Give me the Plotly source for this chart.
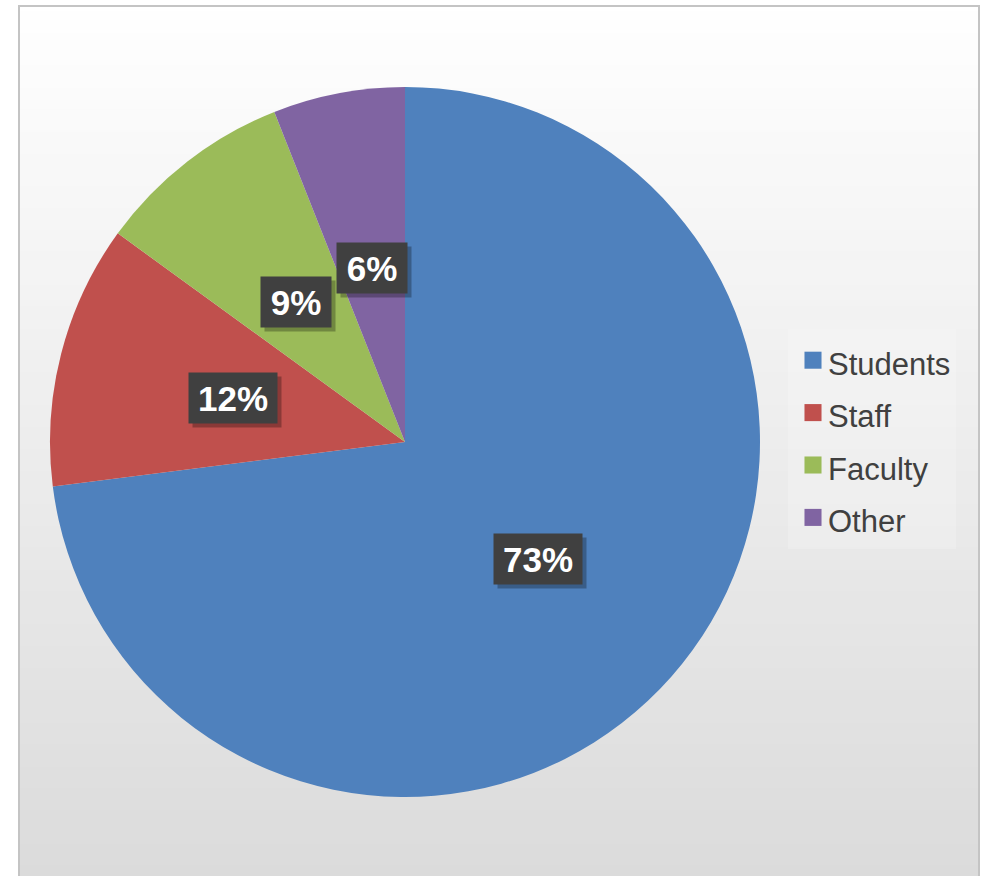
import plotly.graph_objects as go
import math

categories = ["Students", "Staff", "Faculty", "Other"]
values = [73, 12, 9, 6]
colors = ["#4F81BD", "#C0504D", "#9BBB59", "#8064A2"]

W, H = 990, 876
# pie placement (paper fractions)
dom_x = [50 / W, 760 / W]
dom_y = [1 - 797 / H, 1 - 87 / H]

legend_labels = [f'<span style="font-size:31px">{c}</span>' for c in categories]

fig = go.Figure()
fig.add_trace(go.Pie(
    labels=legend_labels, values=values, sort=False, direction="clockwise",
    rotation=0, marker=dict(colors=colors, line=dict(width=0)),
    textinfo="none", hovertext=categories, hoverinfo="text+percent",
    domain=dict(x=dom_x, y=dom_y),
))
# invisible anchor trace for label axes
fig.add_trace(go.Scatter(x=[-1, 1], y=[-1, 1], mode="markers",
                         marker=dict(opacity=0), showlegend=False, hoverinfo="skip"))

# background gradient bands inside the frame
shapes = []
n = 80
top_c, bot_c = 255, 219
for i in range(n):
    y1 = 1.0 - i / n
    y0 = 1.0 - (i + 1) / n
    c = round(top_c + (bot_c - top_c) * (i + 0.5) / n)
    shapes.append(dict(type="rect", xref="paper", yref="paper",
                       x0=19 / W, x1=979 / W, y0=y0 - 0.002, y1=y1,
                       fillcolor=f"rgb({c},{c},{c})", line=dict(width=0), layer="below"))
shapes.append(dict(type="rect", xref="paper", yref="paper",
                   x0=19 / W, x1=979 / W, y0=-0.02, y1=1 - 6 / H,
                   fillcolor="rgba(0,0,0,0)", line=dict(color="#c4c4c4", width=2), layer="below"))

# percentage labels at half radius, positioned from cumulative values
total = sum(values)
annotations = []
cum = 0
for v in values:
    mid = (cum + v / 2) / total * 2 * math.pi
    cum += v
    xr = 0.5 * math.sin(mid)
    yr = 0.5 * math.cos(mid)
    txt = f"{round(v / total * 100)}%"
    wbox = 18 * len(txt) + 32
    common = dict(x=xr, y=yr, xref="x", yref="y", showarrow=False,
                  width=wbox, height=48, borderpad=1,
                  font=dict(family="Liberation Sans, Arial", size=35, color="white"))
    annotations.append(dict(common, text="", bgcolor="rgba(0,0,0,0.28)", xshift=4, yshift=-4))
    annotations.append(dict(common, text=f"<b>{txt}</b>", bgcolor="#404040"))

fig.update_layout(
    width=W, height=H,
    margin=dict(l=0, r=0, t=0, b=0, pad=0),
    paper_bgcolor="white", plot_bgcolor="rgba(0,0,0,0)",
    xaxis=dict(domain=dom_x, range=[-1, 1], visible=False, fixedrange=True),
    yaxis=dict(domain=dom_y, range=[-1, 1], visible=False, fixedrange=True),
    shapes=shapes, annotations=annotations,
    showlegend=True,
    legend=dict(x=788 / W, xanchor="left", y=1 - 439 / H, yanchor="middle",
                font=dict(family="Liberation Sans, Arial", size=38, color="#404040"),
                bgcolor="rgba(255,255,255,0.2)", borderwidth=0),
)

post = (
    "document.body.style.margin='0';"
    "var gd=document.getElementById('{plot_id}');"
    "function fixLeg(){gd.querySelectorAll('.legendpoints path.legendpie').forEach(function(p){"
    "p.setAttribute('transform','translate(25,0) scale(1.42)');});}"
    "fixLeg(); gd.on('plotly_afterplot', fixLeg);"
)

fig.write_html("out.html", post_script=post, config=dict(displayModeBar=False))
